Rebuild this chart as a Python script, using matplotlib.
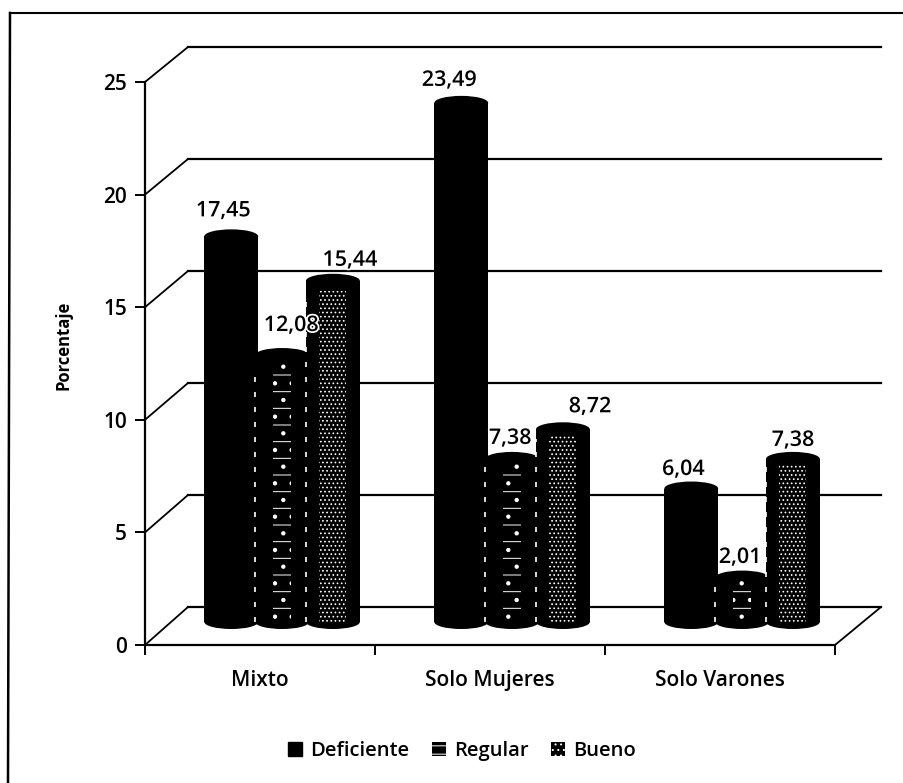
import matplotlib
matplotlib.use('Agg')
import matplotlib.pyplot as plt
import matplotlib.patheffects as pe
from matplotlib.lines import Line2D
from matplotlib.patches import ConnectionPatch, Ellipse, Patch

categorias = ['Mixto', 'Solo Mujeres', 'Solo Varones']
deficiente = [17.45, 23.49, 6.04]
regular = [12.08, 7.38, 2.01]
bueno = [15.44, 8.72, 7.38]
y_ticks = [0, 5, 10, 15, 20, 25]

W, H = 904, 783
plt.rcParams['font.family'] = ['Open Sans', 'DejaVu Sans']
plt.rcParams['font.weight'] = 'semibold'
plt.rcParams['hatch.linewidth'] = 0.7


def caja(x0, x1, y_top, y_bot):
    # pixeles de la imagen -> rect de la figura
    return [x0 / W, 1 - y_bot / H, (x1 - x0) / W, (y_bot - y_top) / H]


fig = plt.figure(figsize=(W / 100, H / 100), dpi=100, facecolor='white')

# pared del fondo
pared = fig.add_axes(caja(188, 881, 47, 607), zorder=1)
pared.set_xlim(0, 3)
pared.set_ylim(0, 25)
pared.set_yticks(y_ticks)
pared.set_xticks([])
pared.tick_params(left=False, labelleft=False)
pared.grid(axis='y', color='black', lw=1.6, clip_on=False)
pared.patch.set_visible(False)
for s in pared.spines.values():
    s.set_visible(False)

# ejes de delante
ax = fig.add_axes(caja(145, 835, 82, 645), zorder=2)
ax.set_xlim(0, 3)
ax.set_ylim(0, 25)
ax.patch.set_visible(False)
ax.spines['top'].set_visible(False)
ax.spines['right'].set_visible(False)
ax.spines['left'].set_linewidth(1.6)
ax.spines['bottom'].set_linewidth(1.6)
ax.set_yticks(y_ticks)
ax.set_xticks([0, 1, 2, 3])
ax.set_xticklabels([])
ax.set_xticks([0.5, 1.5, 2.5], categorias, minor=True)
ax.tick_params(axis='y', labelsize=15, width=1.4, length=7, pad=6, colors='black')
ax.tick_params(axis='x', width=1.4, length=7)
ax.tick_params(axis='x', which='minor', length=0, labelsize=15, pad=18)
ax.set_ylabel('Porcentaje', fontsize=12, fontweight='bold', labelpad=22, y=0.533)

# diagonales entre frente y fondo
for t in y_ticks:
    fig.add_artist(ConnectionPatch((0, t), (0, t), 'data', 'data', axesA=ax, axesB=pared,
                                   color='black', lw=1.3))
fig.add_artist(ConnectionPatch((3, 0), (3, 0), 'data', 'data', axesA=ax, axesB=pared,
                               color='black', lw=1.3))

# las barras tienen su propia escala (22.1 px por unidad, base en y=622)
barras = fig.add_axes(caja(145, 835, 622 - 25 * 22.1, 622), zorder=3)
barras.set_xlim(0, 3)
barras.set_ylim(0, 25)
barras.axis('off')

ancho = 0.234
paso = 0.221
centro = 0.596
alto_elipse = 14 / 22.1

series = [deficiente, regular, bueno]
# hatch de la franja central, y ancho de esa franja
texturas = [None, '-.', '....']
franja = [0, 0.34, 0.5]
# desplazamiento de las etiquetas en px (x, y), una fila por serie
nudges = [
    [(-8, 15), (-12, 12), (-8, 8.5)],
    [(9, 19), (-2, 10), (-2, 9.6)],
    [(17, 10), (27, 12), (0, 8)],
]
halo = [pe.withStroke(linewidth=2.5, foreground='white')]
for j, vals in enumerate(series):
    xs = [i + centro + (j - 1) * paso for i in range(3)]
    barras.bar(xs, vals, width=ancho, color='black', linewidth=0, zorder=3 + j)
    for x, v in zip(xs, vals):
        for yc in (0, v):
            barras.add_patch(Ellipse((x, yc), ancho, alto_elipse, color='black', lw=0,
                                     clip_on=False, zorder=3 + j))
        if j > 0:
            # linea blanca punteada entre barras pegadas
            x_izq = x - ancho / 2
            barras.plot([x_izq, x_izq], [0, v * 0.95], color='white', lw=1.2,
                        ls=(0, (3, 6)), zorder=3.5 + j)
    if texturas[j]:
        barras.bar(xs, [v * 0.97 for v in vals], width=ancho * franja[j], color='none',
                   edgecolor='white', hatch=texturas[j], linewidth=0, zorder=3.4 + j)
    for i, (x, v) in enumerate(zip(xs, vals)):
        dx, dy = nudges[j][i]
        etiqueta = f'{v:.2f}'.replace('.', ',')
        barras.annotate(etiqueta, (x, v), xytext=(dx * 0.72, dy * 0.72),
                        textcoords='offset points', ha='center', va='bottom',
                        fontsize=15.5, color='black', zorder=10,
                        annotation_clip=False, path_effects=halo)

# leyenda
handles = [
    Patch(facecolor='black', edgecolor='black', label='Deficiente'),
    Patch(facecolor='black', edgecolor='white', hatch='--', lw=0, label='Regular'),
    Patch(facecolor='black', edgecolor='white', hatch='...', lw=0, label='Bueno'),
]
fig.legend(handles=handles, loc='center', bbox_to_anchor=(462 / W, 1 - 751 / H), ncol=3,
           frameon=False, fontsize=14.5, handlelength=0.7, handleheight=0.7,
           handletextpad=0.4, columnspacing=1.1)

# marco de la imagen, sin lado derecho ni inferior
fig.add_artist(Line2D([10 / W, 1], [1 - 13 / H, 1 - 13 / H], color='black', lw=1.5))
fig.add_artist(Line2D([10 / W, 8 / W], [1 - 13 / H, 0], color='black', lw=1.8))

fig.savefig('out.png', dpi=100)
